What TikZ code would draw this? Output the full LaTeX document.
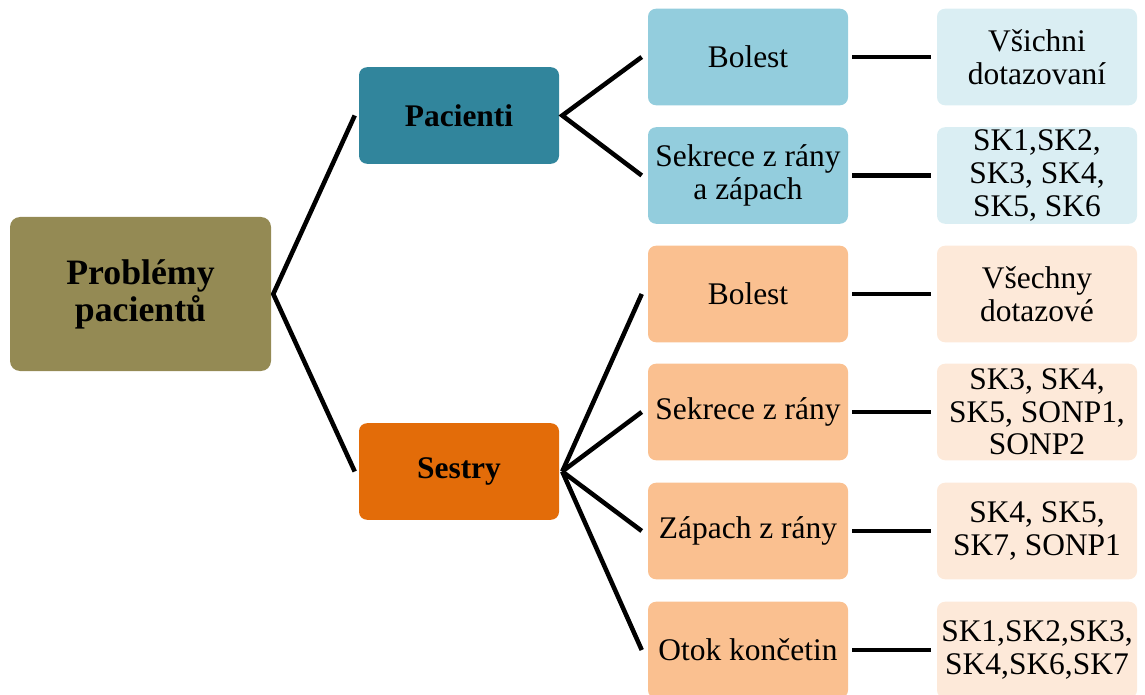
\documentclass[tikz,border=0pt]{standalone}
\usepackage{fontspec}
\setmainfont{Liberation Serif}
\usetikzlibrary{calc}
\definecolor{rootcol}{HTML}{948A54}
\definecolor{paccol}{HTML}{31859C}
\definecolor{pacmid}{HTML}{93CDDD}
\definecolor{paclight}{HTML}{DAEEF3}
\definecolor{sescol}{HTML}{E36C09}
\definecolor{sesmid}{HTML}{FAC090}
\definecolor{seslight}{HTML}{FDE9D9}
\tikzset{
  box/.style={rectangle, rounded corners=6pt, minimum width=150pt, minimum height=72.4pt,
    inner sep=0pt, align=center, font=\fontsize{23.6}{24.4}\selectfont},
  rootbox/.style={box, fill=rootcol, rounded corners=7.5pt, minimum width=195.75pt,
    minimum height=115.5pt, font=\fontsize{26.8}{27.7}\selectfont\bfseries},
  headbox/.style={box, font=\fontsize{23.6}{24.4}\selectfont\bfseries},
  conn/.style={draw=black, line width=3.4pt, line join=miter},
}
\begin{document}
\begin{tikzpicture}[x=0.75pt, y=-0.75pt]
\useasboundingbox (0,0) rectangle (1145,695);

% root
\node[rootbox] (root) at (140.5,294) {Problémy\\pacientů};

% second level
\node[headbox, fill=paccol] (pac) at (459,115.5) {Pacienti};
\node[headbox, fill=sescol] (ses) at (459,471.5) {Sestry};

% patients' branch
\node[box, fill=pacmid] (pb) at (748,57) {Bolest};
\node[box, fill=pacmid] (ps) at (748,175.5) {Sekrece z rány\\a zápach};
\node[box, fill=paclight] (pbr) at (1037,57) {Všichni\\dotazovaní};
\node[box, fill=paclight] (psr) at (1037,175.5) {SK1,SK2,\\SK3, SK4,\\SK5, SK6};

% nurses' branch
\node[box, fill=sesmid] (sb) at (748,294) {Bolest};
\node[box, fill=sesmid] (ss) at (748,412) {Sekrece z rány};
\node[box, fill=sesmid] (sz) at (748,531) {Zápach z rány};
\node[box, fill=sesmid] (so) at (748,650) {Otok končetin};
\node[box, fill=seslight] (sbr) at (1037,294) {Všechny\\dotazové};
\node[box, fill=seslight] (ssr) at (1037,412) {SK3, SK4,\\SK5, SONP1,\\SONP2};
\node[box, fill=seslight] (szr) at (1037,531) {SK4, SK5,\\SK7, SONP1};
\node[box, fill=seslight] (sor) at (1037,650) {SK1,SK2,SK3,\\SK4,SK6,SK7};

% connectors
\draw[conn] ($(pac.west)+(-4,0)$) -- ($(root.east)+(2,0)$) -- ($(ses.west)+(-4,0)$);
\draw[conn] ($(pb.west)+(-6,0)$) -- ($(pac.east)+(3,0)$) -- ($(ps.west)+(-6,0)$);
\foreach \t in {sb,ss,sz,so}
  \draw[conn] ($(ses.east)+(3,0)$) -- ($(\t.west)+(-6,0)$);
\foreach \a/\b in {pb/pbr,ps/psr,sb/sbr,ss/ssr,sz/szr,so/sor}
  \draw[conn] ($(\a.east)+(4,0)$) -- ($(\b.west)+(-6,0)$);
\end{tikzpicture}
\end{document}
